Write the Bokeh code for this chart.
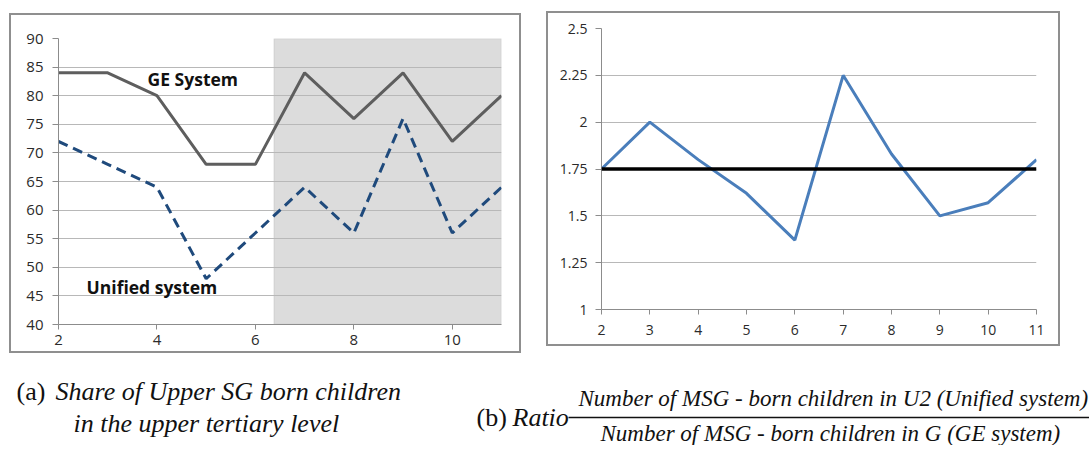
from bokeh.plotting import figure
from bokeh.models import Range1d, FixedTicker, BoxAnnotation, Span, Label, Spacer
from bokeh.layouts import column, row
from bokeh.core.properties import value
from bokeh.embed import file_html
from bokeh.resources import INLINE

# ---- data ----
levels = [2, 3, 4, 5, 6, 7, 8, 9, 10, 11]
ge_share = [84, 84, 80, 68, 68, 84, 76, 84, 72, 80]
unified_share = [72, 68, 64, 48, 56, 64, 56, 76, 56, 64]
ratio = [1.75, 2.0, 1.80, 1.62, 1.37, 2.25, 1.83, 1.50, 1.57, 1.80]
ratio_ref = 1.75
shade_start = 6.38
left_xticks = [2, 4, 6, 8, 10]
left_yticks = [40, 45, 50, 55, 60, 65, 70, 75, 80, 85, 90]
right_yticks = [1, 1.25, 1.5, 1.75, 2, 2.25, 2.5]
right_ylabels = ["1", "1.25", "1.5", "1.75", "2", "2.25", "2.5"]

FONT = "Open Sans"
AXC = "#8c8c8c"
GRIDC = "#b8b8b8"
TXT = "#2b2b2b"
BOX = {"border": "2px solid #8f8f8f"}


def style_axes(p, size):
    for ax in (p.xaxis[0], p.yaxis[0]):
        ax.axis_line_color = AXC
        ax.major_tick_line_color = AXC
        ax.minor_tick_line_color = None
        ax.major_tick_in = 0
        ax.major_label_text_font = FONT
        ax.major_label_text_font_size = size
        ax.major_label_text_color = TXT
    p.xaxis[0].major_tick_out = 5
    p.yaxis[0].major_tick_out = 6
    p.xgrid.grid_line_color = None
    p.ygrid.grid_line_color = GRIDC
    p.outline_line_color = None


# ---- left chart ----
p1 = figure(width=512, height=340, x_range=Range1d(2, 11), y_range=Range1d(40, 90),
            output_backend="svg", toolbar_location=None,
            min_border_left=47, min_border_right=22, min_border_top=23, min_border_bottom=31)
p1.styles = BOX
style_axes(p1, "15px")
p1.xaxis[0].ticker = FixedTicker(ticks=left_xticks)
p1.yaxis[0].ticker = FixedTicker(ticks=left_yticks)
p1.xaxis[0].major_label_standoff = 5
p1.yaxis[0].major_label_standoff = 9

shade = BoxAnnotation(left=shade_start, right=11, bottom=40, top=90,
                      fill_color="#dcdcdc", fill_alpha=1.0,
                      line_color="#b4b4b4", line_width=1.5, level="image")
p1.add_layout(shade)
p1.line(levels, ge_share, line_color="#5e5e5e", line_width=3)
p1.line(levels, unified_share, line_color="#1f4a7c", line_width=3, line_dash="10 6")
p1.text(x=[3.81], y=[83.0], text=["GE System"], text_font=value(FONT), text_font_style="bold",
        text_font_size="17.5px", text_color="#111111", text_baseline="middle", text_align="left")
p1.text(x=[2.57], y=[46.6], text=["Unified system"], text_font=value(FONT), text_font_style="bold",
        text_font_size="17.5px", text_color="#111111", text_baseline="middle", text_align="left")

# ---- right chart ----
p2 = figure(width=514, height=335, x_range=Range1d(2, 11), y_range=Range1d(1, 2.5),
            output_backend="svg", toolbar_location=None,
            min_border_left=53, min_border_right=26, min_border_top=15, min_border_bottom=39)
p2.styles = BOX
style_axes(p2, "14px")
p2.xaxis[0].ticker = FixedTicker(ticks=levels)
p2.yaxis[0].ticker = FixedTicker(ticks=right_yticks)
p2.yaxis[0].major_label_overrides = {t: l for t, l in zip(right_yticks, right_ylabels)}
p2.xaxis[0].major_label_standoff = 10
p2.yaxis[0].major_label_standoff = 8
p2.line(levels, ratio, line_color="#4a7ebb", line_width=3)
p2.add_layout(Span(location=ratio_ref, dimension="width", line_color="#000000", line_width=3.5))

# ---- captions ----
CW, CH = 1089, 92
p3 = figure(width=CW, height=CH, x_range=Range1d(0, CW), y_range=Range1d(0, CH),
            output_backend="svg", toolbar_location=None, min_border=0)
p3.axis.visible = False
p3.grid.visible = False
p3.outline_line_color = None
SERIF = "Liberation Serif"


def cap(x, y, t, size, style="italic"):
    p3.add_layout(Label(x=x, y=y, text=t, text_font=SERIF, text_font_size=size,
                        text_font_style=style, text_color="#111111", text_baseline="middle"))


cap(16, 54, "(a)", "26px", "normal")
cap(55, 54, "Share of Upper SG born children", "26px")
cap(73, 22, "in the upper tertiary level", "26px")
cap(476, 28, "(b)", "26px", "normal")
cap(512, 28, "Ratio", "26px")
p3.line([568, CW], [28, 28], line_color="#111111", line_width=1.5)
cap(578, 47, "Number of  MSG - born children in U2 (Unified  system)", "23px")
cap(600, 12, "Number of  MSG - born children in G (GE system)", "23px")

top_row = row(
    Spacer(width=9),
    column(Spacer(height=13), p1),
    Spacer(width=25),
    column(Spacer(height=11), p2),
)
layout = column(top_row, p3)
open("out.html", "w").write(file_html(layout, INLINE))
